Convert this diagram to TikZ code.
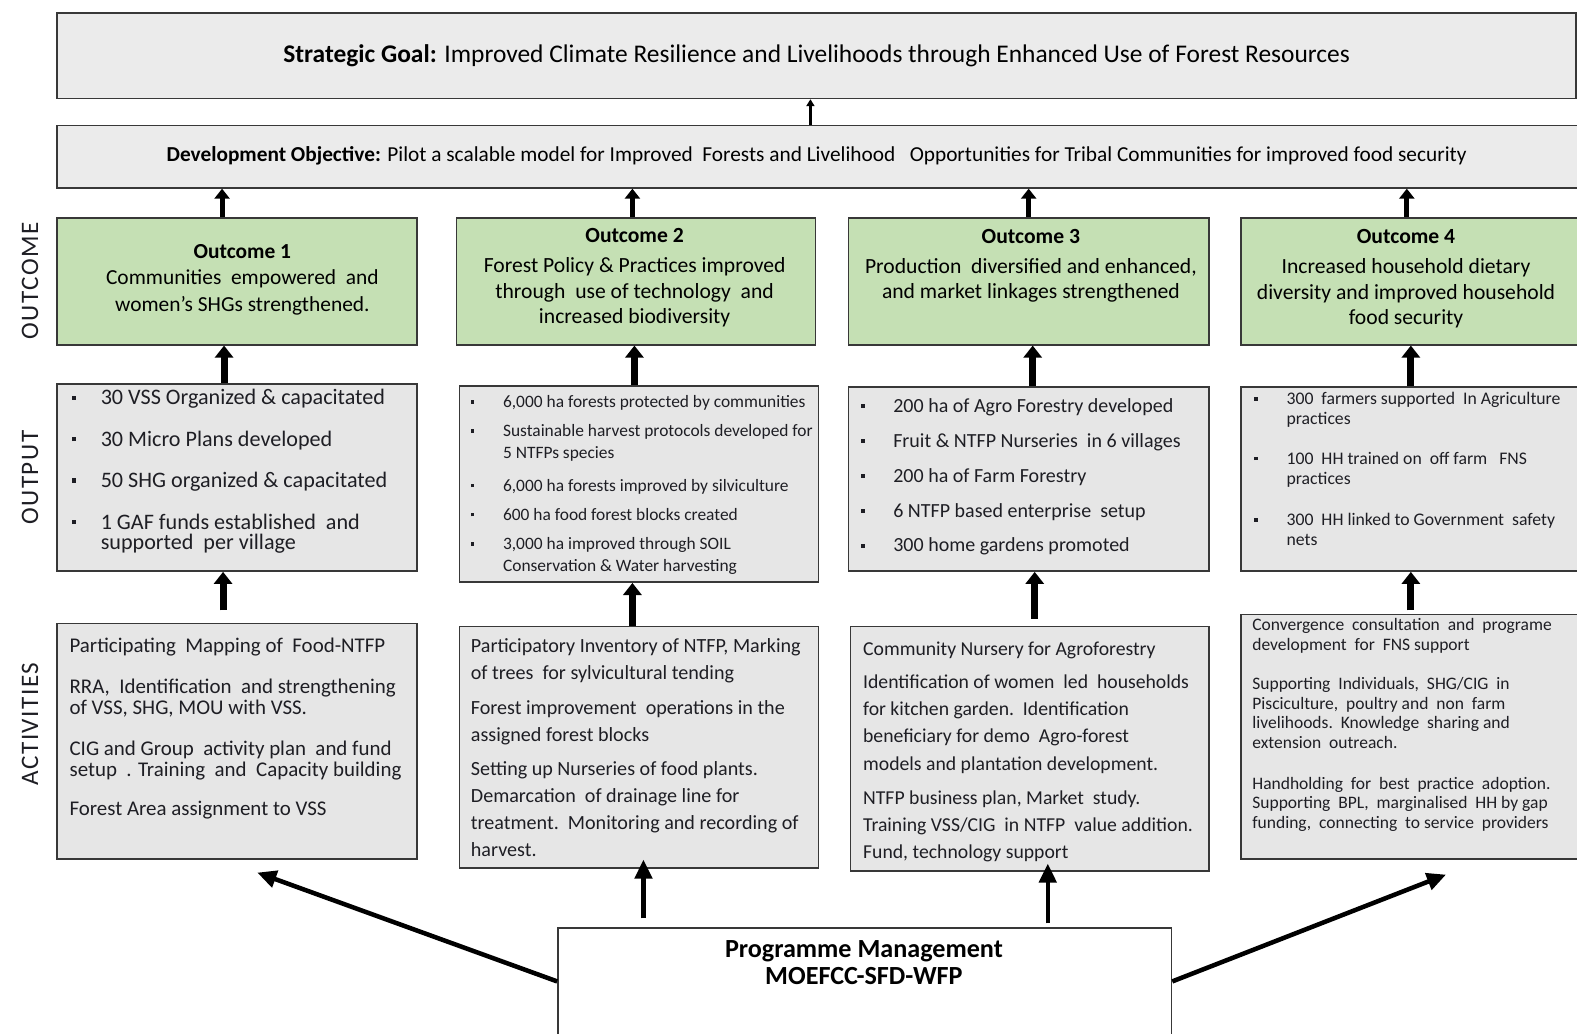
\documentclass[tikz,border=0pt]{standalone}
\usepackage{fontspec}
\setmainfont{Carlito}
\newfontfamily\rowlabelfont[LetterSpace=6]{Carlito}
\usetikzlibrary{arrows.meta,calc}
\definecolor{panelgray}{HTML}{E6E6E6}
\definecolor{goalgray}{HTML}{EBEBEB}
\definecolor{leafgreen}{HTML}{C5E0B4}
\definecolor{edgegray}{HTML}{383838}
\definecolor{ink}{HTML}{1E1E24}
% square bullet with a fixed hanging indent, and the matching indent for wrapped lines
\newcommand\pbul[1]{\makebox[#1][l]{\raisebox{0.22em}{\rule{0.2em}{0.2em}}}}
\newcommand\pind[1]{\hspace*{#1}}
\newcommand\fs[2]{\fontsize{#1}{#2}\selectfont}

\begin{document}
\begin{tikzpicture}[x=1pt,y=-1pt,
  panel/.style={draw=edgegray,line width=1.6pt,fill=panelgray,anchor=north west,inner sep=0pt},
  goalpanel/.style={panel,fill=goalgray},
  leafpanel/.style={panel,fill=leafgreen},
  whitepanel/.style={panel,fill=white},
  txt/.style={anchor=north west,align=left,inner sep=0pt,text=ink},
  ctxt/.style={align=center,inner sep=0pt,text=black},
  rowlabel/.style={rotate=90,inner sep=0pt,text=ink,font=\rowlabelfont\fs{25}{25}},
  tinyarr/.style={line width=3pt,-{Triangle[length=7pt,width=8pt]}},
  midarr/.style={line width=5pt,-{Triangle[length=10pt,width=15pt]}},
  bigarr/.style={line width=7pt,-{Triangle[length=12pt,width=18pt]}},
  pmarr/.style={line width=4.5pt,-{Triangle[length=19pt,width=17pt]}}
]
\useasboundingbox (0,0) rectangle (1568,1028);

% ---------- goal and objective ----------
\node[goalpanel,minimum width=1510pt,minimum height=85pt] (goal) at (56,12) {};
\node[ctxt,font=\fs{25.3}{25}] (goaltxt) at (812,55)
  {\textbf{Strategic Goal:} Improved Climate Resilience and Livelihoods through Enhanced Use of Forest Resources};

\node[goalpanel,minimum width=1530pt,minimum height=62pt] (dev) at (56,124) {};
\node[ctxt,font=\fs{21.2}{21}] (devtxt) at (812,155)
  {\textbf{Development Objective:} Pilot a scalable model for Improved\ \ Forests and Livelihood\ \ \ Opportunities for Tribal Communities for improved food security};

% ---------- row labels ----------
\node[rowlabel] (lbloutcome) at (30,279) {OUTCOME};
\node[rowlabel] (lbloutput) at (30,475) {OUTPUT};
\node[rowlabel] (lblact) at (30,720) {ACTIVITIES};

% ---------- outcomes ----------
\node[leafpanel,minimum width=358pt,minimum height=126pt] (oc1) at (56,216) {};
\node[leafpanel,minimum width=357pt,minimum height=126pt] (oc2) at (453,216) {};
\node[leafpanel,minimum width=358pt,minimum height=126pt] (oc3) at (843,216) {};
\node[leafpanel,minimum width=350pt,minimum height=126pt] (oc4) at (1233,216) {};

\node[ctxt,font=\fs{21.3}{26.5}] (oc1txt) at (241,278)
  {\textbf{Outcome 1}\\Communities\ \ empowered\ \ and\\women’s SHGs strengthened.};
\node[ctxt,font=\fs{21.5}{25}] (oc2txt) at (631,276)
  {\textbf{Outcome 2}\\[5pt]Forest Policy \& Practices improved\\through\ \ use of technology\ \ and\\increased biodiversity};
\node[ctxt,font=\fs{21.5}{25}] (oc3txt) at (1025,264)
  {\textbf{Outcome 3}\\[5pt]Production\ \ diversified and enhanced,\\and market linkages strengthened};
\node[ctxt,font=\fs{21.5}{25}] (oc4txt) at (1398,277)
  {\textbf{Outcome 4}\\[5pt]Increased household dietary\\diversity and improved household\\food security};

% ---------- outputs ----------
\node[panel,minimum width=358pt,minimum height=186pt] (out1) at (56,381) {};
\node[panel,minimum width=357pt,minimum height=195pt] (out2) at (456,383) {};
\node[panel,minimum width=358pt,minimum height=183pt] (out3) at (843,384) {};
\node[panel,minimum width=350pt,minimum height=183pt] (out4) at (1233,384) {};

\node[txt,font=\fs{22}{20.5}] (out1txt) at (71,387)
  {\pbul{29pt}30 VSS Organized \& capacitated\\[20.5pt]
   \pbul{29pt}30 Micro Plans developed\\[21pt]
   \pbul{29pt}50 SHG organized \& capacitated\\[20.5pt]
   \pbul{29pt}1 GAF funds established\ \ and\\
   \pind{29pt}supported\ \ per village};

\node[txt,font=\fs{17.3}{22}] (out2txt) at (468,393)
  {\pbul{32pt}6,000 ha forests protected by communities\\[7pt]
   \pbul{32pt}Sustainable harvest protocols developed for\\
   \pind{32pt}5 NTFPs species\\[10pt]
   \pbul{32pt}6,000 ha forests improved by silviculture\\[7pt]
   \pbul{32pt}600 ha food forest blocks created\\[7pt]
   \pbul{32pt}3,000 ha improved through SOIL\\
   \pind{32pt}Conservation \& Water harvesting};

\node[txt,font=\fs{19.9}{34.7}] (out3txt) at (856,396)
  {\pbul{32pt}200 ha of Agro Forestry developed\\
   \pbul{32pt}Fruit \& NTFP Nurseries\ \ in 6 villages\\
   \pbul{32pt}200 ha of Farm Forestry\\
   \pbul{32pt}6 NTFP based enterprise\ \ setup\\
   \pbul{32pt}300 home gardens promoted};

\node[txt,font=\fs{17.6}{20}] (out4txt) at (1247,390)
  {\pbul{32pt}300\ \ farmers supported\ \ In Agriculture\\
   \pind{32pt}practices\\[19pt]
   \pbul{32pt}100\ \ HH trained on\ \ off farm\ \ \ FNS\\
   \pind{32pt}practices\\[21pt]
   \pbul{32pt}300\ \ HH linked to Government\ \ safety\\
   \pind{32pt}nets};

% ---------- activities ----------
\node[panel,minimum width=358pt,minimum height=234pt] (act1) at (56,619) {};
\node[panel,minimum width=357pt,minimum height=240pt] (act2) at (456,622) {};
\node[panel,minimum width=356pt,minimum height=243pt] (act3) at (845,622) {};
\node[panel,minimum width=350pt,minimum height=243pt] (act4) at (1233,610) {};

\node[txt,font=\fs{20.8}{20.5}] (act1txt) at (69,634)
  {Participating\ \ Mapping of\ \ Food-NTFP\\[20.5pt]
   RRA,\ \ Identification\ \ and strengthening\\
   of VSS, SHG, MOU with VSS.\\[21pt]
   CIG and Group\ \ activity plan\ \ and fund\\
   setup\ \ . Training\ \ and\ \ Capacity building\\[18.5pt]
   Forest Area assignment to VSS};

\node[txt,font=\fs{20}{27}] (act2txt) at (468,635)
  {Participatory Inventory of NTFP, Marking\\
   of trees\ \ for sylvicultural tending\\[7pt]
   Forest improvement\ \ operations in the\\
   assigned forest blocks\\[7pt]
   Setting up Nurseries of food plants.\\
   Demarcation\ \ of drainage line for\\
   treatment.\ \ Monitoring and recording of\\
   harvest.};

\node[txt,font=\fs{19.6}{27}] (act3txt) at (858,638)
  {Community Nursery for Agroforestry\\[6pt]
   Identification of women\ \ led\ \ households\\
   for kitchen garden.\ \ Identification\\
   beneficiary for demo\ \ Agro-forest\\
   models and plantation development.\\[7pt]
   NTFP business plan, Market\ \ study.\\
   Training VSS/CIG\ \ in NTFP\ \ value addition.\\
   Fund, technology support};

\node[txt,font=\fs{17.4}{19.5}] (act4txt) at (1245,615)
  {Convergence\ \ consultation\ \ and\ \ programe\\
   development\ \ for\ \ FNS support\\[19.5pt]
   Supporting\ \ Individuals,\ \ SHG/CIG\ \ in\\
   Pisciculture,\ \ poultry and\ \ non\ \ farm\\
   livelihoods.\ \ Knowledge\ \ sharing and\\
   extension\ \ outreach.\\[21pt]
   Handholding\ \ for\ \ best\ \ practice\ \ adoption.\\
   Supporting\ \ BPL,\ \ marginalised\ \ HH by gap\\
   funding,\ \ connecting\ \ to service\ \ providers};

% ---------- programme management ----------
\node[whitepanel,minimum width=610pt,minimum height=106pt] (pm) at (554,922) {};
\node[ctxt,font=\bfseries\fs{26}{27}] (pmtxt) at (859,957)
  {Programme Management\\MOEFCC-SFD-WFP};

% ---------- connectors ----------
\coordinate (a0) at ([xshift=-16pt]dev.north);
\draw[tinyarr] (a0) -- (a0 |- goal.south);

\coordinate (a1) at ([xshift=-15pt]oc1.north);
\coordinate (a2) at ([xshift=-3.5pt]oc2.north);
\coordinate (a3) at ([xshift=0pt]oc3.north);
\coordinate (a4) at ([xshift=-10pt]oc4.north);
\foreach \c in {a1,a2,a3,a4} \draw[midarr] (\c) -- (\c |- dev.south);

\coordinate (b1) at ([xshift=-13pt]out1.north);
\coordinate (b2) at ([xshift=-4.5pt]out2.north);
\coordinate (b3) at ([xshift=4pt]out3.north);
\coordinate (b4) at ([xshift=-6pt]out4.north);
\draw[bigarr] (b1) -- (b1 |- oc1.south);
\draw[bigarr] (b2) -- (b2 |- oc2.south);
\draw[bigarr] (b3) -- (b3 |- oc3.south);
\draw[bigarr] (b4) -- (b4 |- oc4.south);

\coordinate (c1) at ([xshift=-14pt]act1.north);
\coordinate (c2) at ([xshift=-6.5pt]act2.north);
\coordinate (c3) at ([xshift=5pt]act3.north);
\coordinate (c4) at ([xshift=-6pt]act4.north);
\draw[bigarr,shorten <=12pt] (c1) -- (c1 |- out1.south);
\draw[bigarr] (c2) -- (c2 |- out2.south);
\draw[bigarr,shorten <=7pt] (c3) -- (c3 |- out3.south);
\draw[bigarr,shorten <=3pt] (c4) -- (c4 |- out4.south);

\coordinate (d2) at ([xshift=4.5pt,yshift=9pt]act2.south);
\coordinate (d3) at ([xshift=18pt,yshift=8pt]act3.south);
\draw[pmarr] ([yshift=9pt]d2 |- pm.north) -- (d2);
\draw[pmarr] ([yshift=4pt]d3 |- pm.north) -- (d3);
\draw[pmarr] (pm.west) -- ([xshift=20pt,yshift=-13pt]act1.south);
\draw[pmarr] (pm.east) -- ([xshift=29pt,yshift=-15pt]act4.south);
\end{tikzpicture}
\end{document}
